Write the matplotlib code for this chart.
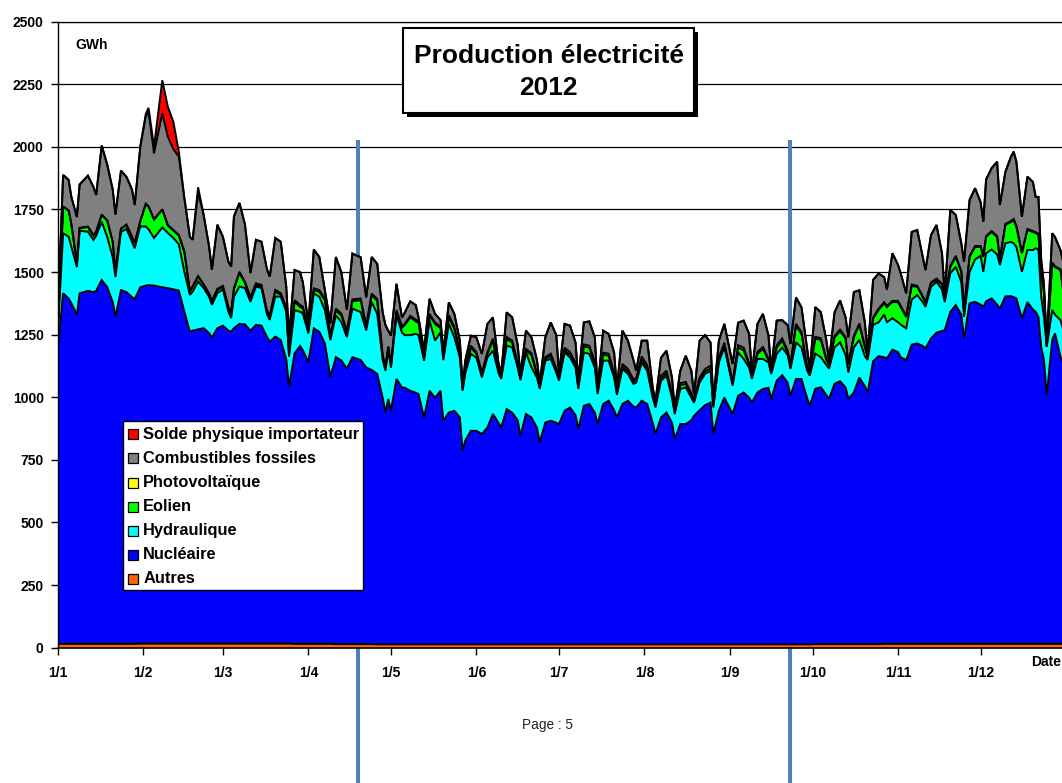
import numpy as np
import matplotlib
matplotlib.use("Agg")
import matplotlib.pyplot as plt
from matplotlib.patches import Rectangle
from matplotlib.lines import Line2D
from matplotlib.transforms import Affine2D

plt.rcParams['font.family'] = ['Liberation Sans', 'DejaVu Sans']

# ---- daily production 2012 (GWh), day index counted from 1 January ----
jours = [
    0, 2, 4, 5, 7, 8, 11, 13, 14, 16, 18, 20, 21, 23, 25, 27, 28,
    30, 32, 33, 35, 38, 40, 42, 44, 46, 48, 49, 51, 53, 55, 56, 58,
    60, 62, 63, 64, 66, 68, 70, 72, 74, 76, 77, 79, 81, 83, 84, 86, 88,
    89, 91, 93, 95, 97, 99, 101, 103, 105, 107, 110, 112, 114, 116, 118, 119,
    120, 121, 123, 125, 126, 128, 130, 131, 133, 135, 137, 139, 140, 142, 144, 146, 147, 148,
    150, 152, 154, 156, 158, 160, 161, 163, 165, 167, 168, 170, 172, 174, 175, 177, 179, 181, 182,
    184, 186, 188, 189, 191, 193, 195, 196, 198, 200, 202, 203, 205, 207, 209, 210, 212,
    214, 216, 217, 219, 221, 223, 224, 226, 228, 230, 231, 233, 235, 237, 238, 240, 242,
    245, 247, 249, 251, 252, 254, 256, 258, 259, 261, 263, 265, 266, 268, 270, 272, 273,
    275, 277, 279, 280, 282, 284, 286, 287, 289, 291, 293, 294, 296, 298, 300, 301, 303,
    305, 306, 308, 310, 312, 314, 315, 317, 319, 321, 322, 324, 326, 328, 329, 331, 333,
    335, 336, 337, 339, 341, 342, 344, 346, 347, 348, 350, 352, 354, 355, 356, 357, 358, 359, 361, 362, 364, 365,
]

autres = [
    15, 15, 15, 15, 15, 15, 15, 15, 15, 15, 15, 15, 15, 15, 15, 15, 15,
    16, 16, 16, 16, 16, 16, 16, 16, 16, 16, 16, 16, 16, 16, 16, 16,
    16, 16, 16, 16, 16, 16, 16, 16, 16, 16, 16, 16, 16, 16, 16, 15, 15,
    15, 15, 15, 15, 15, 15, 14, 14, 14, 14, 14, 14, 14, 13, 13, 13,
    13, 13, 13, 13, 13, 13, 13, 13, 13, 13, 13, 13, 13, 13, 13, 13, 13, 13,
    13, 13, 13, 13, 13, 13, 13, 13, 13, 13, 13, 13, 13, 13, 13, 13, 13, 13, 13,
    13, 13, 13, 13, 13, 13, 13, 13, 13, 13, 13, 13, 13, 13, 13, 13, 13,
    13, 13, 13, 13, 13, 13, 13, 13, 13, 13, 13, 13, 13, 13, 13, 13, 13,
    13, 13, 13, 13, 13, 13, 13, 13, 13, 13, 13, 13, 13, 13, 13, 13, 13,
    14, 14, 14, 14, 14, 14, 14, 14, 14, 14, 14, 14, 14, 14, 15, 15, 15,
    15, 15, 15, 15, 15, 15, 15, 15, 15, 15, 15, 15, 15, 15, 15, 15, 15,
    15, 15, 15, 15, 15, 15, 15, 15, 15, 15, 15, 15, 15, 15, 15, 15, 15, 15, 15, 15, 15, 15,
]

nucleaire = [
    1165, 1400, 1380, 1360, 1315, 1400, 1410, 1405, 1410, 1453, 1425, 1365, 1306, 1413, 1405, 1385, 1377,
    1423, 1430, 1432, 1430, 1423, 1420, 1415, 1410, 1327, 1246, 1250, 1255, 1260, 1240, 1222, 1260,
    1270, 1250, 1246, 1260, 1277, 1275, 1250, 1273, 1270, 1225, 1206, 1226, 1213, 1135, 1026, 1160, 1190,
    1173, 1126, 1260, 1246, 1200, 1066, 1146, 1133, 1100, 1146, 1135, 1105, 1095, 1080, 985, 926,
    980, 933, 1060, 1026, 1025, 1013, 1005, 1000, 906, 1013, 985, 1013, 893, 926, 933, 906, 773, 815,
    853, 853, 840, 866, 920, 885, 866, 940, 925, 895, 833, 920, 906, 865, 806, 886, 893, 885, 880,
    933, 946, 915, 860, 953, 960, 925, 880, 960, 973, 935, 906, 960, 973, 950, 946, 973,
    960, 885, 840, 906, 926, 885, 820, 880, 880, 895, 913, 935, 955, 966, 840, 933, 986,
    920, 993, 1006, 985, 966, 1006, 1020, 1025, 980, 1053, 1075, 1045, 993, 1060, 1060, 985, 953,
    1020, 1026, 995, 980, 1040, 1050, 1025, 980, 1005, 1065, 1030, 1005, 1130, 1150, 1145, 1140, 1175,
    1166, 1145, 1133, 1195, 1200, 1190, 1180, 1220, 1243, 1250, 1253, 1326, 1353, 1315, 1220, 1360, 1366,
    1355, 1346, 1368, 1380, 1355, 1339, 1388, 1389, 1385, 1380, 1300, 1365, 1335, 1326, 1305, 1185, 1135, 993, 1215, 1240, 1148, 1115,
]

hydraulique = [
    60, 240, 246, 226, 190, 250, 236, 208, 220, 233, 200, 180, 159, 232, 252, 220, 203,
    243, 236, 223, 190, 239, 220, 205, 185, 158, 147, 155, 191, 160, 145, 131, 140,
    145, 75, 54, 125, 149, 145, 115, 153, 150, 90, 87, 160, 173, 190, 120, 173, 136,
    147, 114, 140, 140, 133, 147, 167, 153, 126, 194, 191, 148, 271, 240, 150, 167,
    195, 172, 255, 219, 210, 222, 235, 235, 227, 280, 228, 233, 242, 354, 293, 240, 240, 270,
    307, 292, 226, 280, 253, 200, 194, 253, 261, 210, 222, 246, 200, 200, 214, 247, 247, 200, 173,
    233, 200, 190, 160, 213, 200, 180, 120, 173, 160, 130, 91, 140, 107, 90, 99, 153,
    133, 100, 106, 147, 147, 100, 100, 140, 146, 90, 52, 110, 125, 127, 106, 193, 200,
    113, 173, 134, 120, 94, 134, 120, 101, 100, 107, 110, 110, 107, 146, 126, 110, 120,
    140, 120, 120, 120, 145, 155, 130, 105, 180, 150, 120, 130, 145, 135, 170, 145, 125,
    119, 130, 127, 180, 193, 175, 166, 205, 203, 165, 112, 154, 153, 130, 86, 125, 169,
    195, 140, 192, 195, 200, 174, 212, 216, 215, 205, 186, 208, 238, 254, 270, 200, 171, 193, 118, 75, 145, 140,
]

eolien = [
    10, 105, 104, 89, 15, 10, 19, 17, 15, 27, 65, 60, 20, 12, 16, 20, 20,
    19, 89, 90, 73, 71, 30, 30, 35, 80, 13, 20, 20, 13, 10, 13, 13,
    10, 15, 20, 30, 54, 20, 15, 7, 6, 10, 13, 20, 7, 10, 14, 33, 20,
    20, 13, 13, 20, 40, 13, 20, 27, 19, 30, 47, 13, 27, 53, 15, 13,
    10, 10, 10, 20, 40, 71, 50, 50, 7, 20, 67, 17, 8, 26, 34, 19, 7, 10,
    25, 15, 14, 14, 40, 10, 7, 27, 19, 10, 8, 7, 49, 10, 10, 7, 13, 10, 12,
    9, 11, 10, 10, 24, 25, 15, 9, 24, 20, 10, 8, 10, 10, 10, 10, 14,
    12, 8, 7, 10, 10, 10, 7, 15, 14, 10, 7, 10, 10, 10, 7, 9, 9,
    7, 20, 35, 10, 10, 20, 40, 9, 7, 25, 28, 10, 10, 67, 54, 10, 12,
    60, 69, 20, 13, 40, 45, 65, 30, 40, 60, 35, 10, 25, 50, 45, 60, 65,
    80, 70, 45, 55, 33, 20, 14, 15, 9, 20, 10, 25, 40, 40, 27, 60, 50,
    35, 59, 65, 70, 70, 20, 73, 80, 93, 80, 74, 80, 72, 60, 60, 95, 99, 4, 187, 190, 200, 150,
]

photovoltaique = [
    1, 2, 2, 2, 2, 2, 2, 2, 2, 2, 2, 2, 2, 2, 2, 2, 2,
    2, 2, 2, 2, 2, 2, 2, 2, 2, 2, 2, 2, 2, 3, 3, 4,
    4, 5, 5, 5, 5, 5, 5, 6, 7, 6, 5, 7, 7, 6, 4, 7, 8,
    7, 7, 7, 7, 7, 5, 7, 7, 5, 7, 7, 7, 7, 7, 5, 5,
    5, 5, 10, 6, 6, 6, 7, 6, 5, 7, 6, 6, 4, 9, 7, 6, 5, 5,
    8, 7, 5, 7, 8, 6, 4, 8, 8, 6, 4, 7, 8, 6, 5, 7, 8, 7, 7,
    10, 10, 10, 7, 8, 8, 8, 6, 8, 8, 8, 6, 10, 10, 8, 8, 10,
    10, 7, 6, 10, 10, 8, 5, 8, 8, 8, 6, 10, 10, 10, 7, 10, 10,
    7, 9, 10, 8, 7, 8, 8, 7, 4, 10, 9, 8, 7, 7, 7, 7, 7,
    7, 7, 6, 6, 6, 6, 6, 6, 6, 6, 6, 5, 5, 5, 5, 5, 5,
    5, 5, 5, 5, 4, 4, 4, 4, 4, 4, 3, 4, 4, 4, 4, 4, 4,
    4, 4, 4, 4, 4, 4, 4, 4, 4, 4, 4, 4, 4, 4, 4, 3, 3, 3, 3, 3, 3, 3,
]

fossiles = [
    60, 126, 121, 108, 183, 173, 203, 193, 146, 275, 223, 208, 228, 231, 190, 188, 151,
    298, 348, 378, 263, 383, 353, 323, 313, 213, 217, 186, 332, 278, 187, 124, 256,
    196, 180, 181, 286, 275, 230, 95, 174, 172, 164, 155, 207, 205, 84, 62, 120, 131,
    98, 20, 155, 132, 33, 49, 206, 165, 85, 183, 165, 112, 146, 140, 170, 164,
    63, 113, 105, 34, 44, 58, 58, 15, 28, 60, 34, 26, 18, 51, 53, 42, 8, 35,
    40, 59, 75, 113, 85, 24, 9, 98, 93, 74, 10, 73, 63, 54, 8, 79, 125, 133, 8,
    95, 106, 80, 16, 88, 97, 97, 5, 88, 79, 82, 9, 133, 113, 77, 30, 63,
    98, 25, 11, 72, 80, 62, 8, 50, 105, 90, 20, 148, 135, 92, 10, 68, 75,
    73, 90, 108, 117, 8, 112, 132, 93, 9, 98, 73, 102, 83, 106, 99, 73, 8,
    119, 104, 74, 14, 94, 117, 79, 104, 175, 132, 94, 15, 150, 140, 100, 65, 190,
    145, 130, 90, 210, 223, 156, 129, 189, 214, 121, 17, 224, 163, 111, 189, 224, 231,
    176, 137, 226, 251, 297, 216, 208, 256, 269, 257, 142, 209, 196, 141, 146, 50, 27, 7, 117, 117, 77, 117,
]

# net imports: only the days where the balance was importing
solde_importateur = {32: 10, 33: 15, 35: 27, 38: 132, 40: 120, 42: 110, 44: 20, 51: 23}
solde = [solde_importateur.get(j, 0) for j in jours]

series = [
    ("Autres", autres, "#FF6600"),
    ("Nucléaire", nucleaire, "#0000FF"),
    ("Hydraulique", hydraulique, "#00FFFF"),
    ("Eolien", eolien, "#00FF00"),
    ("Photovoltaïque", photovoltaique, "#FFFF00"),
    ("Combustibles fossiles", fossiles, "#808080"),
    ("Solde physique importateur", solde, "#FF0000"),
]
legende_ordre = ["Solde physique importateur", "Combustibles fossiles", "Photovoltaïque",
                 "Eolien", "Hydraulique", "Nucléaire", "Autres"]

debut_mois = [0, 31, 60, 91, 121, 152, 182, 213, 244, 274, 305, 335]
etiquettes_mois = ["1/1", "1/2", "1/3", "1/4", "1/5", "1/6", "1/7", "1/8", "1/9", "1/10", "1/11", "1/12"]

for _, v, _c in series:
    assert len(v) == len(jours)

# ---- figure ----
W, H = 1062, 783
fig = plt.figure(figsize=(W / 100, H / 100), dpi=100)
px = Affine2D().scale(1 / W, -1 / H).translate(0, 1) + fig.transFigure

x_left, x_right = 57.6, 1066.0
y_top, y_bot = 21.7, 647.6
ax = fig.add_axes([x_left / W, 1 - y_bot / H, (x_right - x_left) / W, (y_bot - y_top) / H])
ax.set_xlim(0, 366)
ax.set_ylim(0, 2500)

x = np.array(jours, dtype=float)
bas = np.zeros(len(jours))
for nom, vals, couleur in series:
    haut = bas + np.array(vals, dtype=float)
    ax.fill_between(x, bas, haut, facecolor=couleur, edgecolor="none", linewidth=0, zorder=2)
    bas = haut
bas = np.zeros(len(jours))
for nom, vals, couleur in series:
    haut = bas + np.array(vals, dtype=float)
    ax.plot(x, haut, color="black", lw=1.4, zorder=3, solid_joinstyle="miter")
    bas = haut

ax.set_yticks(np.arange(0, 2501, 250))
ax.yaxis.grid(True, color="black", lw=0.9)
ax.set_axisbelow(True)
ax.set_xticks(debut_mois)
ax.set_xticklabels(etiquettes_mois)
ax.tick_params(axis="y", direction="out", length=5, width=1, pad=5, labelsize=10)
ax.tick_params(axis="x", direction="out", length=5, width=1, pad=8, labelsize=10)
for lab in ax.get_xticklabels() + ax.get_yticklabels():
    lab.set_fontweight("bold")
ax.spines["right"].set_visible(False)
ax.spines["top"].set_linewidth(0.9)
ax.spines["left"].set_linewidth(1.0)
ax.spines["bottom"].set_linewidth(1.2)

# page rules crossing the sheet
for xr in (358, 790):
    ax.add_artist(Line2D([xr, xr], [142, 783], transform=px, color="#4F81BD", lw=2.9,
                         zorder=1.5, clip_on=False))

# unit label
fig.text(75, 45, "GWh", transform=px, ha="left", va="center", fontsize=10, fontweight="bold")

# title box with shadow
fig.add_artist(Rectangle((407, 32), 291, 85, transform=px, facecolor="black", edgecolor="none", zorder=5))
fig.add_artist(Rectangle((403, 28), 291, 85, transform=px, facecolor="white", edgecolor="black", lw=1.5, zorder=6))
fig.text(548.5, 56, "Production électricité", transform=px, ha="center", va="center",
         fontsize=19, fontweight="bold", zorder=7)
fig.text(548.5, 88, "2012", transform=px, ha="center", va="center",
         fontsize=19, fontweight="bold", zorder=7)

# legend
couleurs = {nom: c for nom, _, c in series}
fig.add_artist(Rectangle((122.7, 421), 240, 169, transform=px, facecolor="white", edgecolor="black", lw=1.0, zorder=5))
for i, nom in enumerate(legende_ordre):
    yc = 434.3 + 24.1 * i
    fig.add_artist(Rectangle((128.3, yc - 5), 10, 10, transform=px, facecolor=couleurs[nom],
                             edgecolor="black", lw=0.9, zorder=6))
    fig.text(143.3, yc, nom, transform=px, ha="left", va="center", fontsize=11.8,
             fontweight="bold", zorder=7)

fig.text(1031, 662, "Date", transform=px, ha="left", va="center", fontsize=10, fontweight="bold")
fig.text(547, 725, "Page : 5", transform=px, ha="center", va="center", fontsize=9.8, color="#222222")

fig.savefig("out.png", dpi=100)
